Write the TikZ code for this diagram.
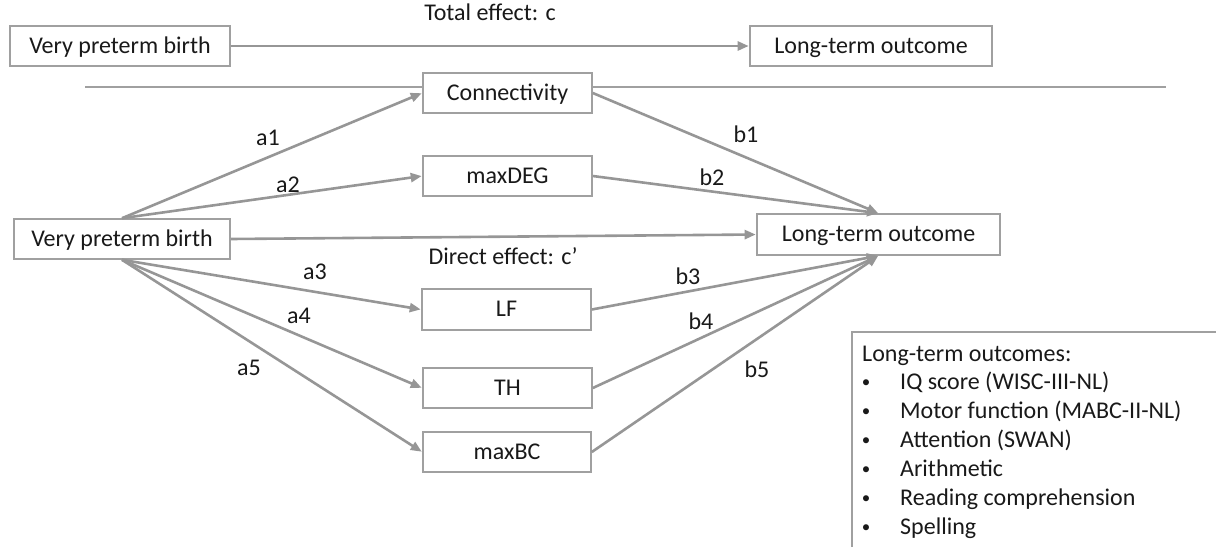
\documentclass[tikz,border=0pt]{standalone}
\usepackage{fontspec}
\setmainfont{Carlito}
\usetikzlibrary{arrows.meta}
\definecolor{boxgray}{RGB}{160,160,160}
\definecolor{arrgray}{RGB}{150,150,150}
\definecolor{txt}{RGB}{25,25,25}
\tikzset{
  every node/.style={text=txt, font=\fontsize{24}{29}\selectfont},
  bx/.style={draw=boxgray, line width=1.6pt, fill=white, inner sep=0pt, text height=17pt, text depth=2.6pt},
  conn/.style={draw=arrgray, line width=2.6pt, -{Triangle[length=11pt,width=9pt]}, shorten >=0.5pt},
  lbl/.style={inner sep=0pt},
  sep/.style={draw=boxgray, line width=1.1pt}
}
\begin{document}
\begin{tikzpicture}[x=1pt,y=-1pt]
\useasboundingbox (0,0) rectangle (1216,547);
% separator line
\coordinate (sepL) at (85,87);
\coordinate (sepR) at (1166,87);
\draw[sep] (sepL) -- (sepR);
% top row
\node[bx, minimum width=220pt, minimum height=40pt] (vpbT) at (120,46) {Very preterm birth};
\node[bx, minimum width=242pt, minimum height=40pt] (ltoT) at (871,46) {Long-term outcome};
\draw[conn] (vpbT.east) -- (ltoT.west);
\node[lbl] (tot) at (490,12) {Total effect: c};
% mediation model
\node[bx, minimum width=216pt, minimum height=40pt] (vpb) at (122,239) {Very preterm birth};
\node[bx, minimum width=243pt, minimum height=41pt] (lto) at (878.5,234.5) {Long-term outcome};
\node[bx, minimum width=169pt, minimum height=40pt] (cn) at (507.5,93) {Connectivity};
\node[bx, minimum width=169pt, minimum height=40pt] (md) at (507.5,176) {maxDEG};
\node[bx, minimum width=169pt, minimum height=41pt] (lf) at (506.5,309.5) {LF};
\node[bx, minimum width=169pt, minimum height=40pt] (th) at (507.5,388) {TH};
\node[bx, minimum width=168pt, minimum height=40pt] (mb) at (507,452) {maxBC};
% a paths
\draw[conn] (vpb.north) -- (cn.west);
\draw[conn] (vpb.north) -- (md.west);
\draw[conn] (vpb.south) -- (lf.west);
\draw[conn] (vpb.south) -- (th.west);
\draw[conn] (vpb.south) -- (mb.west);
% b paths
\draw[conn] (cn.east) -- (lto.north);
\draw[conn] (md.east) -- (lto.north);
\draw[conn] (lf.east) -- (lto.south);
\draw[conn] (th.east) -- (lto.south);
\draw[conn] (mb.east) -- (lto.south);
% direct
\draw[conn] (vpb.east) -- (lto.west);
\node[lbl] (dir) at (503,256) {Direct effect: c’};
% labels
\node[lbl] (la1) at (268,138) {a1};
\node[lbl] (la2) at (288,185) {a2};
\node[lbl] (la3) at (315,272) {a3};
\node[lbl] (la4) at (299,316) {a4};
\node[lbl] (la5) at (249,368) {a5};
\node[lbl] (lb1) at (746,134) {b1};
\node[lbl] (lb2) at (712,177) {b2};
\node[lbl] (lb3) at (688,276) {b3};
\node[lbl] (lb4) at (701,321) {b4};
\node[lbl] (lb5) at (757,369) {b5};
% legend
\coordinate (legBL) at (852,547);
\coordinate (legTL) at (852,332);
\coordinate (legTR) at (1216,332);
\draw[draw=boxgray, line width=1.6pt] (legBL) -- (legTL) -- (legTR);
\node[lbl, anchor=base west] (leghead) at (862,361) {Long-term outcomes:};
\foreach \t [count=\i] in {IQ score (WISC-III-NL), Motor function (MABC-II-NL), Attention (SWAN), Arithmetic, Reading comprehension, Spelling}{
  \node[lbl, anchor=base, font=\fontsize{17}{20}\selectfont] (bul\i) at (866,359+28.9*\i) {•};
  \node[lbl, anchor=base west] (item\i) at (900,361+28.9*\i) {\t};
}
\end{tikzpicture}
\end{document}
